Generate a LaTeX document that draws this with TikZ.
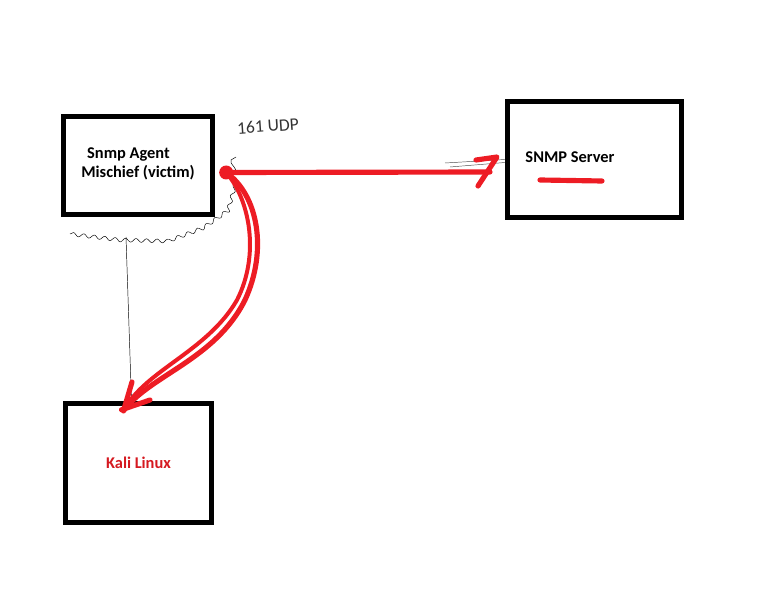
\documentclass[tikz,border=0pt]{standalone}
\usepackage{fontspec}
\setmainfont{Carlito}
\usetikzlibrary{arrows,arrows.meta,positioning,calc,decorations.pathmorphing}
\definecolor{paintred}{RGB}{237,28,36}

\begin{document}
\begin{tikzpicture}[x=0.03cm,y=-0.03cm]
        \tikzstyle{every node}=[font=\fontsize{14}{18}\selectfont\bfseries]
        \tikzstyle{host}=[draw,line width=4.6pt,inner sep=0pt]
        \tikzstyle{redpen}=[paintred,line width=4.4pt,line cap=round,line join=round]
        \useasboundingbox (0,0) rectangle (770,594);

        %%% Hosts
        \node[host,minimum width=4.47cm,minimum height=2.94cm,align=center] (agent) at (138,165.5) {};
        \node[align=left] (agenttext) at (141,164) {Snmp Agent\\[-2pt]\hspace*{-5pt}Mischief (victim)};
        \node[host,minimum width=5.22cm,minimum height=3.48cm] (srv) at (594.5,159.5) {};
        \node (srvtext) at (570,157) {SNMP Server};
        \node[host,minimum width=4.38cm,minimum height=3.57cm,text=paintred!90!black] (kali) at (138.5,463) {Kali Linux};

        \node[font=\fontsize{15}{15}\selectfont,rotate=4,text=black!80] (udp) at (268,126) {161 UDP};

        \coordinate (tap) at ($(agent.east)+(11,7)$);
        \coordinate (tip) at (490,172);
        \coordinate (kalitip) at ($(kali.north)+(-15,10)$);

        %%% Scribbles
        \draw[thin,decorate,decoration={snake,amplitude=1.6,segment length=9}]
            (70,234) -- (120,240) -- (165,241) -- (200,228) -- (226,210) -- (233,185) -- (231,160);
        \draw[thin] (231,160) -- (236,157);
        \draw[thin] (126,237) -- ($(kali.north)+(-7,0)$);
        \draw[thin,black!70] (445,163) -- (srv.west);
        \draw[thin,black!70] (450,167) -- ($(srv.west)+(0,3)$);

        %%% Red connectors
        \draw[redpen] (tap) -- (tip);
        \draw[redpen] (476,160) -- (497,157) -- (478,186);
        \draw[redpen] (tap) .. controls (258,195) and (268,250) .. (245,300)
            .. controls (215,360) and (150,375) .. (kalitip);
        \draw[redpen,line width=3.4pt] (tap) .. controls (250,200) and (260,255) .. (237,300)
            .. controls (207,352) and (145,370) .. (kalitip);
        \draw[redpen] (kalitip) -- (132,382);
        \draw[redpen] ($(kalitip)+(-2,-1)$) -- (150,400);
        \fill[paintred] (tap) circle (7);
        \draw[redpen] (540,180) -- (602,181);
    \end{tikzpicture}
\end{document}
